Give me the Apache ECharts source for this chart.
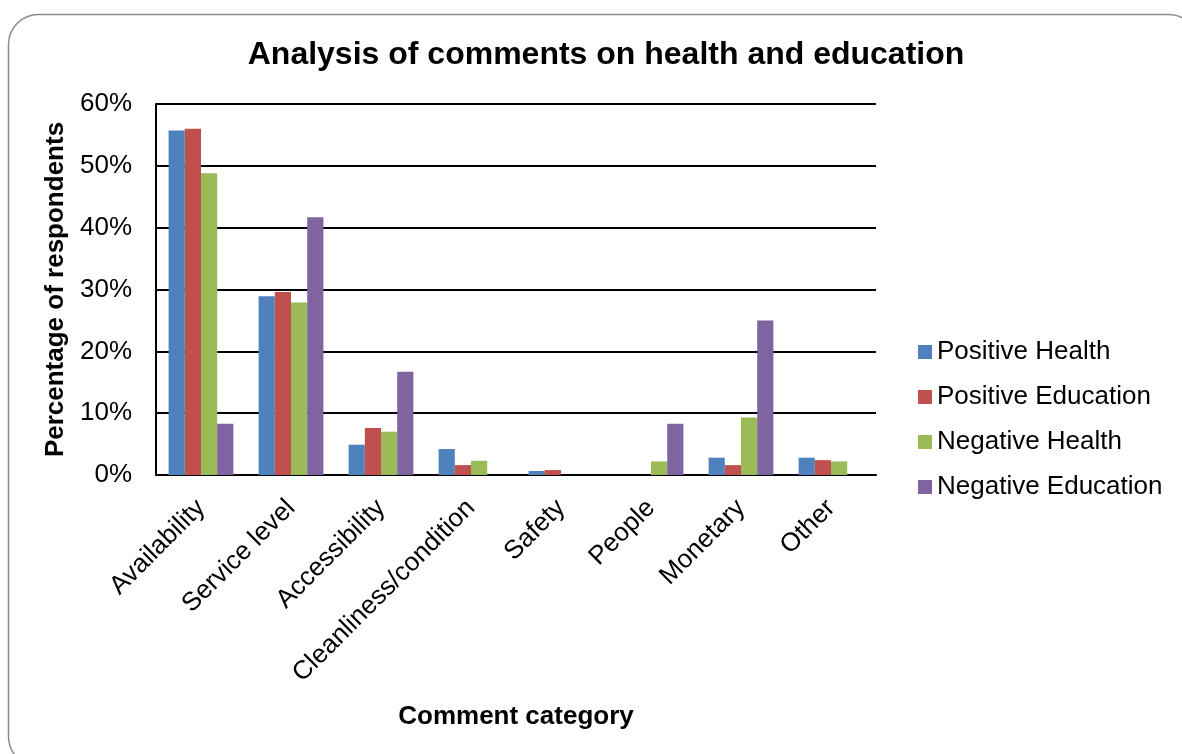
<!DOCTYPE html>
<html>
<head>
<meta charset="utf-8">
<script src="https://cdn.jsdelivr.net/npm/echarts@6/dist/echarts.min.js"></script>
<style>
  html, body { margin: 0; padding: 0; background: #fff; }
  #chart { width: 1182px; height: 754px; }
</style>
</head>
<body>
<div id="chart"></div>
<script>
// Comment categories along the x axis
const categories = ['Availability', 'Service level', 'Accessibility', 'Cleanliness/condition', 'Safety', 'People', 'Monetary', 'Other'];

// Share of respondents (%) per category
const positiveHealth    = [55.7, 28.9, 4.9, 4.2, 0.65, 0, 2.8, 2.8];
const positiveEducation = [56.0, 29.6, 7.6, 1.6, 0.8, 0, 1.6, 2.4];
const negativeHealth    = [48.8, 27.9, 7.0, 2.3, 0, 2.2, 9.3, 2.2];
const negativeEducation = [8.3, 41.7, 16.7, 0, 0, 8.3, 25.0, 0];

const seriesNames = ['Positive Health', 'Positive Education', 'Negative Health', 'Negative Education'];
const seriesColors = ['#4F81BD', '#C0504D', '#9BBB59', '#8064A2'];
const seriesData = [positiveHealth, positiveEducation, negativeHealth, negativeEducation];

const FONT = 'Liberation Sans, Arial, sans-serif';

const chart = echarts.init(document.getElementById('chart'), null, { renderer: 'canvas' });

chart.setOption({
  backgroundColor: '#ffffff',
  animation: false,
  graphic: [{
    type: 'rect',
    shape: { x: 8.5, y: 14.5, width: 1190, height: 752, r: 30 },
    style: { fill: 'none', stroke: '#8c8c8c', lineWidth: 1.5 },
    z: -1
  }],
  title: {
    text: 'Analysis of comments on health and education',
    left: 601, top: 34, textAlign: 'center',
    textStyle: { fontFamily: FONT, fontSize: 32, fontWeight: 'bold', color: '#000' }
  },
  legend: {
    orient: 'vertical',
    left: 913, top: 332,
    itemWidth: 14, itemHeight: 14, itemGap: 15,
    icon: 'rect',
    textStyle: { fontFamily: FONT, fontSize: 26, color: '#000', lineHeight: 30 },
    data: seriesNames
  },
  grid: { left: 156, right: 306, top: 104, bottom: 279, containLabel: false },
  xAxis: {
    type: 'category',
    data: categories,
    name: 'Comment category',
    nameLocation: 'middle',
    nameGap: 229,
    nameTextStyle: { fontFamily: FONT, fontSize: 26, fontWeight: 'bold', color: '#000' },
    axisLine: { lineStyle: { color: '#000', width: 2 } },
    axisTick: { show: false },
    axisLabel: {
      rotate: 45, margin: 29, interval: 0,
      fontFamily: FONT, fontSize: 26, color: '#000'
    }
  },
  yAxis: {
    type: 'value',
    min: 0, max: 60, interval: 10,
    name: 'Percentage of respondents',
    nameLocation: 'middle',
    nameGap: 81,
    nameRotate: 90,
    nameTextStyle: { fontFamily: FONT, fontSize: 26, fontWeight: 'bold', color: '#000' },
    axisLine: { show: true, lineStyle: { color: '#000', width: 2 } },
    axisTick: { show: false },
    splitLine: { lineStyle: { color: '#000', width: 2 } },
    axisLabel: {
      margin: 24,
      fontFamily: FONT, fontSize: 26, color: '#000',
      formatter: v => v + '%'
    }
  },
  series: seriesData.map((d, i) => ({
    name: seriesNames[i],
    type: 'bar',
    data: d,
    barGap: '0%',
    barCategoryGap: '28%',
    itemStyle: { color: seriesColors[i] }
  }))
});
</script>
</body>
</html>
